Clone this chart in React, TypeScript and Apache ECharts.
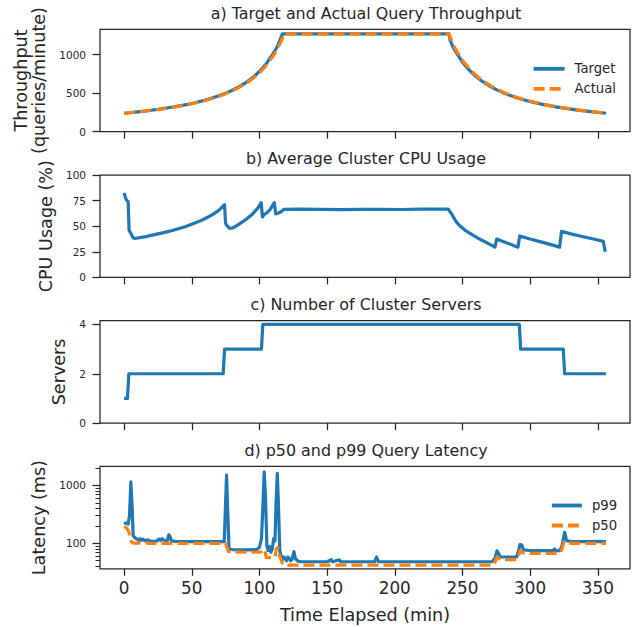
import React, { useEffect, useRef } from "react";
import * as echarts from "echarts";

const FONT = "DejaVu Sans";
const INK = "#262626";
const BLUE = "#1f77b4";
const ORANGE = "#ff7f0e";

const panelTitles = [
  "a) Target and Actual Query Throughput",
  "b) Average Cluster CPU Usage",
  "c) Number of Cluster Servers",
  "d) p50 and p99 Query Latency",
];

const timeTicks = [0, 50, 100, 150, 200, 250, 300, 350];
const throughputTicks = [0, 500, 1000];
const cpuTicks = [0, 25, 50, 75, 100];
const serverTicks = [0, 2, 4];
const latencyMajorTicks = [100, 1000];
const latencyMinorTicks = [40, 50, 60, 70, 80, 90, 200, 300, 400, 500, 600, 700, 800, 900, 2000];

const throughputTarget: [number, number][] = [
  [0, 240], [5, 249], [10, 258], [15, 268], [20, 279], [25, 290], [30, 303], [35, 317],
  [40, 332], [45, 349], [50, 367], [55, 388], [60, 411], [65, 437], [70, 466], [75, 500],
  [80, 539], [85, 584], [90, 638], [95, 702], [100, 782], [105, 881], [110, 1010], [113, 1100],
  [115, 1182], [117, 1270], [240, 1270], [241, 1182], [243, 1100], [245, 1040], [250, 904],
  [255, 800], [260, 717], [265, 650], [270, 594], [275, 547], [280, 507], [285, 472], [290, 442],
  [295, 416], [300, 392], [305, 371], [310, 352], [315, 335], [320, 320], [325, 306], [330, 293],
  [335, 281], [340, 270], [345, 260], [350, 250], [356, 240],
];

const throughputActual: [number, number][] = [
  [0, 238], [5, 247], [10, 256], [15, 266], [20, 277], [25, 288], [30, 300], [35, 314],
  [40, 329], [45, 346], [50, 363], [55, 384], [60, 406], [65, 431], [70, 460], [75, 493],
  [80, 531], [85, 575], [90, 627], [95, 689], [100, 765], [105, 860], [110, 980], [113, 1065],
  [115, 1135], [117, 1215], [118, 1270], [240, 1270], [241, 1230], [242, 1182], [244, 1100],
  [246, 1040], [251, 904], [256, 800], [261, 717], [266, 650], [271, 594], [276, 547], [281, 507],
  [286, 472], [291, 442], [296, 416], [301, 392], [306, 371], [311, 352], [316, 335], [321, 320],
  [326, 306], [331, 293], [336, 281], [341, 270], [346, 260], [351, 250], [356, 243],
];

const cpuUsage: [number, number][] = [
  [0, 82.5], [1, 78], [2, 75], [3, 74], [3.7, 46], [5, 43], [6.5, 39], [8, 38], [15, 39.5],
  [20, 41], [25, 42.5], [30, 44], [35, 45.5], [40, 47.5], [45, 49.5], [50, 52], [55, 54.5],
  [60, 57.5], [65, 61], [70, 65.5], [74.2, 71], [75, 53], [76, 50.5], [78, 48], [79.5, 48],
  [82, 49.5], [85, 52], [90, 56.5], [95, 62], [99, 68], [101.3, 73], [102.2, 59], [103.5, 61.5],
  [105, 62.5], [108, 66.5], [111, 73], [112, 62], [114, 63], [116, 64], [118, 66.5], [130, 66.7],
  [145, 66.5], [160, 66.2], [175, 66.5], [190, 66.4], [205, 66.3], [220, 66.6], [239.5, 66.6],
  [242, 62], [245, 55], [248, 50.5], [252, 46], [258, 41], [264, 36.5], [270, 32.5], [274, 29.5],
  [275.3, 37.5], [280, 35], [285, 32.5], [291, 29.5], [292.3, 40.5], [300, 37.5], [310, 34],
  [318, 31], [321.8, 29.5], [323.2, 45], [330, 42.5], [340, 39.5], [350, 36.5], [354, 35.2],
  [355.5, 25],
];

const clusterServers: [number, number][] = [
  [0, 1], [2.5, 1], [3.5, 2], [73.2, 2], [74.2, 3], [101.5, 3], [102.5, 4], [292, 4],
  [293, 3], [324.5, 3], [325.5, 2], [356, 2],
];

const latencyP99: [number, number][] = [
  [0, 230], [1, 222], [2, 220], [3, 215], [4, 300], [5, 1150], [6, 400], [6.7, 135], [8, 125],
  [9, 120], [10, 118], [11, 112], [12, 120], [13, 113], [14, 118], [15, 112], [16, 110], [17, 115],
  [18, 113], [19, 110], [20, 108], [22, 108], [24, 109], [26, 118], [27, 112], [28, 120], [29, 115],
  [30, 112], [31, 108], [32, 112], [33, 140], [34, 130], [35, 110], [38, 108], [45, 107], [55, 107],
  [65, 107], [74, 107], [75, 500], [75.7, 1500], [76.5, 400], [77.5, 80], [80, 78], [90, 77],
  [98, 78], [100, 85], [101.5, 120], [102.5, 400], [103.5, 1700], [104.5, 600], [105.5, 90],
  [106.5, 75], [107.5, 88], [108.5, 70], [109.5, 80], [110.5, 120], [111.5, 110], [112.3, 500],
  [113.2, 1600], [114, 500], [115, 76], [116, 60], [117, 52], [118, 58], [119, 55], [120, 50],
  [121, 58], [122, 55], [123, 50], [124, 52], [125.5, 72], [126.5, 55], [128, 50], [130, 48],
  [140, 48], [150, 48], [153, 52], [154, 48], [159, 52], [160, 48], [170, 48], [185, 48],
  [186.5, 58], [188, 48], [200, 48], [220, 48], [240, 48], [260, 48], [272, 48], [274, 55],
  [275.5, 74], [277, 65], [278, 58], [290, 58], [291.5, 75], [292.5, 95], [294, 93], [295, 77],
  [300, 75], [310, 75], [317, 75], [318, 80], [319, 75], [322, 75], [323.5, 90], [325.5, 155],
  [327, 110], [330, 108], [340, 107], [350, 108], [356, 107],
];

const latencyP50: [number, number][] = [
  [0, 195], [1, 190], [2.5, 175], [3.5, 158], [4.5, 130], [5.5, 106], [7, 101], [20, 100],
  [40, 100], [60, 100], [75, 100], [76, 85], [77, 72], [90, 70], [100, 70], [102, 72], [104, 78],
  [105, 57], [110, 56], [111.5, 58], [112.5, 80], [113.5, 85], [115, 60], [117, 45], [118, 42],
  [150, 42], [200, 42], [250, 42], [273, 42], [274.5, 50], [275.5, 58], [277, 55], [278, 52],
  [290, 52], [291.5, 60], [292.5, 75], [294, 70], [295, 68], [300, 67], [322, 67], [323.5, 80],
  [325, 105], [327, 100], [340, 100], [356, 100],
];

const GRID_TOPS = [29.3, 175, 320.7, 466.4];
const GRID_H = 102.4;

export default function App() {
  const ref = useRef<HTMLDivElement>(null);

  useEffect(() => {
    if (!ref.current) return;
    const chart = echarts.init(ref.current, undefined, { renderer: "svg" });

    const log = (v: number) => Math.log10(v);
    const tickLine = { color: INK, width: 1.25 };

    const xAxes = GRID_TOPS.map((_, i) => ({
      type: "value",
      gridIndex: i,
      min: -17.8,
      max: 373.8,
      splitLine: { show: false },
      axisLine: { show: false, onZero: false },
      axisTick: { show: true, length: 7, lineStyle: tickLine, customValues: timeTicks },
      axisLabel: {
        show: i === 3,
        customValues: timeTicks,
        fontSize: 16.8,
        fontFamily: FONT,
        color: INK,
        margin: 11,
        formatter: (v: number) => String(v),
      },
      name: i === 3 ? "Time Elapsed (min)" : "",
      nameLocation: "middle",
      nameGap: 37,
      nameTextStyle: { fontSize: 17.6, fontFamily: FONT, color: INK },
    }));

    const yBase = (
      gridIndex: number,
      min: number,
      max: number,
      ticks: number[],
      name: string,
      nameGap: number
    ) => ({
      type: "value",
      gridIndex,
      min,
      max,
      position: "left",
      splitLine: { show: false },
      axisLine: { show: false, onZero: false },
      axisTick: { show: true, length: 7.5, lineStyle: tickLine, customValues: ticks },
      axisLabel: {
        customValues: ticks,
        fontSize: 10.5,
        fontFamily: FONT,
        color: INK,
        margin: 14,
        formatter: (v: number) => String(v),
      },
      name,
      nameLocation: "middle",
      nameGap,
      nameTextStyle: { fontSize: 17.6, fontFamily: FONT, color: INK, lineHeight: 18 },
    });

    const latMajor = latencyMajorTicks.map(log);
    const latMinor = latencyMinorTicks.map(log);

    const yAxes: any[] = [
      yBase(0, 0, 1330, throughputTicks, "Throughput\n(queries/minute)", 42.5),
      yBase(1, 0, 100, cpuTicks, "CPU Usage (%)", 40.5),
      yBase(2, 0, 4.15, serverTicks, "Servers", 27),
      {
        ...yBase(3, 1.56, 3.326, latMajor, "Latency (ms)", 45.5),
        axisLabel: {
          customValues: latMajor,
          fontSize: 10.5,
          fontFamily: FONT,
          color: INK,
          margin: 14,
          formatter: (v: number) => String(Math.round(Math.pow(10, v))),
        },
      },
      {
        type: "value",
        gridIndex: 3,
        min: 1.56,
        max: 3.326,
        position: "left",
        offset: 0,
        splitLine: { show: false },
        axisLine: { show: false, onZero: false },
        axisTick: { show: true, length: 4.5, lineStyle: { color: INK, width: 1 }, customValues: latMinor },
        axisLabel: { show: false, customValues: latMinor },
      },
    ];

    const lineSeries = (
      name: string,
      data: [number, number][],
      idx: number,
      color: string,
      dashed: boolean,
      z: number
    ) => ({
      type: "line",
      name,
      xAxisIndex: idx,
      yAxisIndex: idx,
      data,
      symbol: "none",
      showSymbol: false,
      z,
      itemStyle: { color },
      lineStyle: { color, width: 3.2, type: dashed ? [11, 5] : "solid", cap: "butt", join: "round" },
    });

    const legendCommon = {
      orient: "vertical",
      itemHeight: 14,
      itemGap: 7,
      itemStyle: { opacity: 0 },
      lineStyle: { width: 3.8 },
      textStyle: { fontSize: 13.2, fontFamily: FONT, color: INK, padding: [0, 0, 0, 5] },
    };

    const option: any = {
      animation: false,
      backgroundColor: "#ffffff",
      textStyle: { fontFamily: FONT },
      title: panelTitles.map((t, i) => ({
        text: t,
        left: 366,
        top: GRID_TOPS[i] - 16.3 - 9,
        textAlign: "center",
        padding: 0,
        textStyle: { fontSize: 15.9, fontWeight: "normal", color: INK, fontFamily: FONT, lineHeight: 18 },
      })),
      grid: GRID_TOPS.map((top) => ({
        left: 100,
        right: 8,
        top,
        height: GRID_H,
        show: true,
        borderColor: INK,
        borderWidth: 1.25,
        backgroundColor: "transparent",
      })),
      legend: [
        { ...legendCommon, data: ["Target", "Actual"], left: 526.7, top: 57.3, itemWidth: 31 },
        { ...legendCommon, data: ["p99", "p50"], left: 545, top: 494, itemWidth: 30 },
      ],
      xAxis: xAxes,
      yAxis: yAxes,
      series: [
        lineSeries("Target", throughputTarget, 0, BLUE, false, 2),
        lineSeries("Actual", throughputActual, 0, ORANGE, true, 3),
        lineSeries("cpu", cpuUsage, 1, BLUE, false, 2),
        lineSeries("servers", clusterServers, 2, BLUE, false, 2),
        {
          ...lineSeries("p99", latencyP99.map(([t, v]) => [t, log(v)] as [number, number]), 3, BLUE, false, 2),
          yAxisIndex: 3,
        },
        {
          ...lineSeries("p50", latencyP50.map(([t, v]) => [t, log(v)] as [number, number]), 3, ORANGE, true, 3),
          yAxisIndex: 3,
        },
      ],
    };

    chart.setOption(option);
    return () => chart.dispose();
  }, []);

  return (
    <div
      ref={ref}
      style={{ position: "fixed", left: 0, top: 0, width: 638, height: 627, background: "#fff" }}
    />
  );
}
